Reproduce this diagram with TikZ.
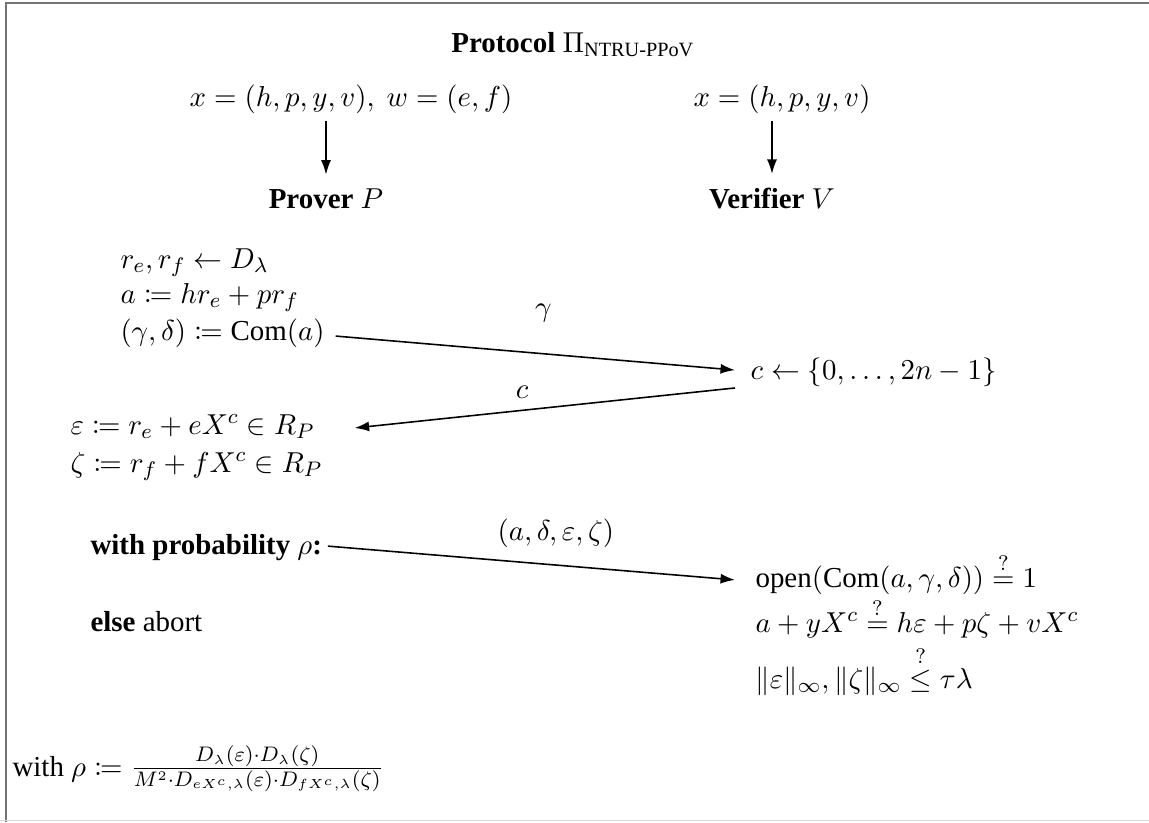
\documentclass[tikz,border=0pt]{standalone}
\usepackage{amsmath}
\usepackage{mathtools}
\usepackage{fontspec}
\setmainfont{Liberation Serif}
\usepackage{tikz}
\usetikzlibrary{arrows.meta,positioning}
\tikzset{
  line/.style={anchor=base west, inner sep=0pt},
  head/.style={anchor=base, inner sep=0pt},
  msg/.style={
    -{Latex[length=5.5pt,width=3.8pt]},
    semithick
  },
  feed/.style={
    -{Latex[length=5.5pt,width=3.8pt]},
    semithick
  },
  frameline/.style={draw=black!55, line width=0.8pt}
}

\begin{document}
\begin{tikzpicture}[x=0.38pt, y=-0.38pt, font=\fontsize{11}{13.2}\selectfont]
\useasboundingbox (0,0) rectangle (1149,822);
\draw[frameline] (6,822) -- (6,3) -- (1149,3);
\draw[black!15, line width=0.6pt] (0,820.5) -- (1149,820.5);

% header
\node[head] (title) at (573,52) {\textbf{Protocol} $\Pi_{\text{NTRU-PPoV}}$};
\node[head] (pin) at (351,106) {$x = (h,p,y,v),\ w = (e,f)$};
\node[head] (vin) at (782,106) {$x = (h,p,y,v)$};
\node[head] (prover) at (326,208) {\textbf{Prover} $P$};
\node[head] (verifier) at (772,208) {\textbf{Verifier} $V$};
\draw[feed, shorten <=2.7pt, shorten >=5pt] (pin.south -| prover.north) -- (prover.north);
\draw[feed, shorten <=2.7pt, shorten >=5pt] (vin.south -| verifier.north) -- (verifier.north);

% prover: commit
\node[line] (rr) at (120,268) {$r_e, r_f \leftarrow D_\lambda$};
\node[line] (ra) at (120,303) {$a \coloneqq h r_e + p r_f$};
\node[line] (com) at (120,340) {$(\gamma,\delta) \coloneqq \mathrm{Com}(a)$};

% verifier: challenge
\node[line] (chal) at (750,379) {$c \leftarrow \{0,\dots,2n-1\}$};

% prover: response
\node[line] (eps) at (70,434) {$\varepsilon \coloneqq r_e + eX^c \in R_P$};
\node[line] (zeta) at (70,472) {$\zeta \coloneqq r_f + fX^c \in R_P$};
\node[line] (prob) at (90,554) {\textbf{with probability} $\rho$\textbf{:}};
\node[line] (abort) at (90,631) {\textbf{else} abort};

% verifier: checks
\node[line] (open) at (755,587) {$\mathrm{open}(\mathrm{Com}(a,\gamma,\delta)) \stackrel{?}{=} 1$};
\node[line] (lin) at (755,632) {$a + yX^c \stackrel{?}{=} h\varepsilon + p\zeta + vX^c$};
\node[line] (norm) at (755,688) {$\|\varepsilon\|_\infty, \|\zeta\|_\infty \stackrel{?}{\leq} \tau\lambda$};

\node[line] (rhodef) at (12,776) {with $\rho \coloneqq \frac{D_\lambda(\varepsilon)\cdot D_\lambda(\zeta)}{M^2\cdot D_{eX^c,\lambda}(\varepsilon)\cdot D_{fX^c,\lambda}(\zeta)}$};

% messages
\draw[msg] ([xshift=4pt, yshift=1.5pt]com.base east) -- ([xshift=-5.7pt, yshift=3.4pt]chal.base west)
  node[pos=0.52, above=8.5pt] {$\gamma$};
\draw[msg] ([xshift=-5.7pt, yshift=-3.4pt]chal.base west) -- ([xshift=15pt, yshift=2.3pt]eps.base east)
  node[pos=0.56, above=1pt] {$c$};
\draw[msg] ([xshift=2pt, yshift=3pt]prob.base east) -- ([xshift=-7.6pt, yshift=2.7pt]open.base west)
  node[pos=0.56, above=3pt] {$(a,\delta,\varepsilon,\zeta)$};
\end{tikzpicture}
\end{document}
